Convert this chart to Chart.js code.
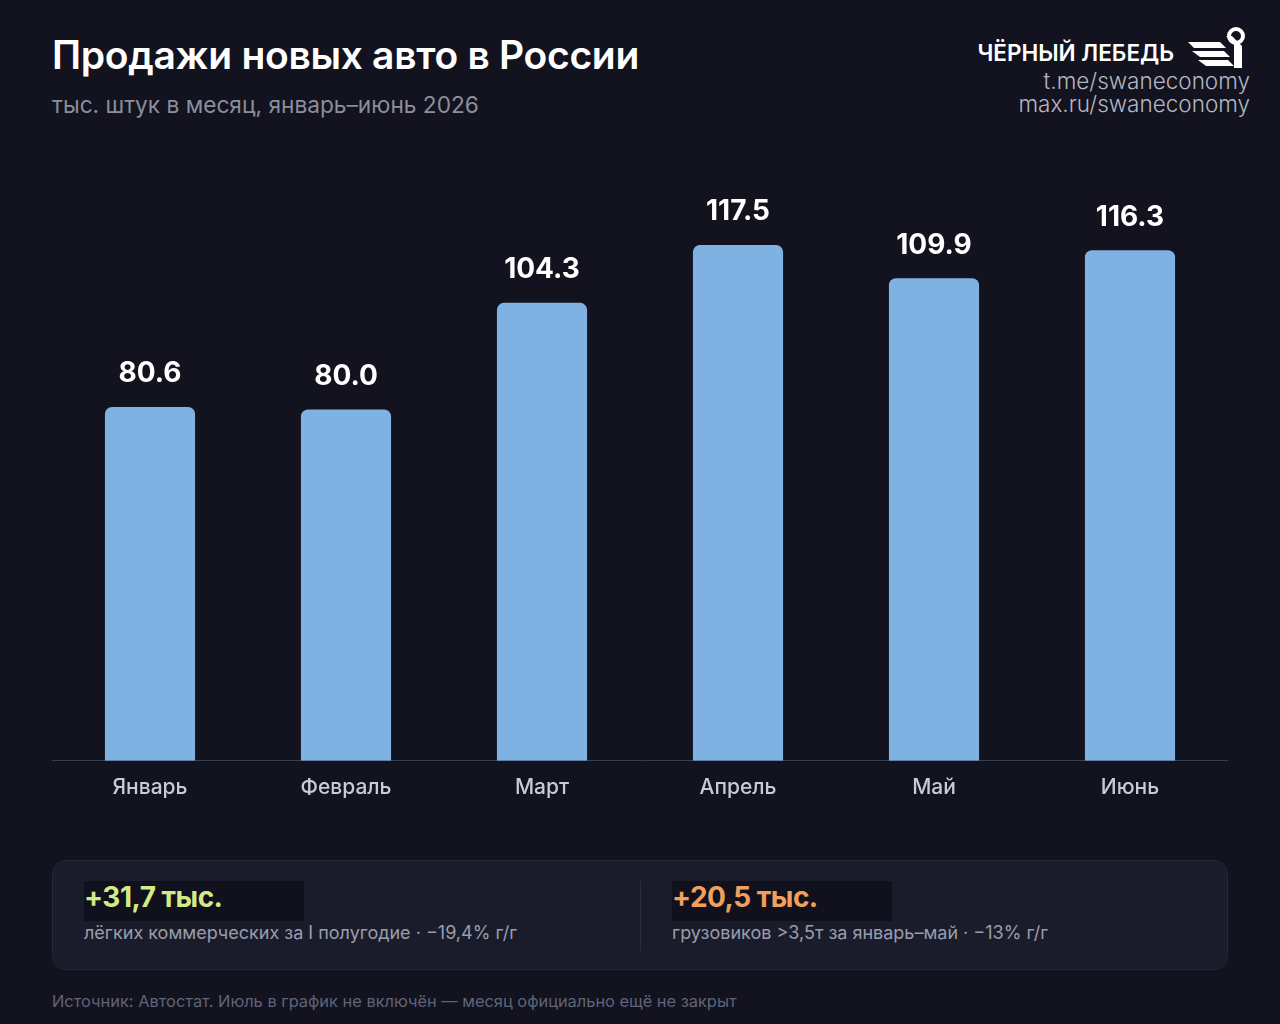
<!DOCTYPE html>
<html lang="ru">
<head>
<meta charset="utf-8">
<script src="https://cdn.jsdelivr.net/npm/chart.js@4/dist/chart.umd.min.js"></script>
<style>
  html, body { margin: 0; padding: 0; }
  body {
    width: 1280px; height: 1024px; position: relative; overflow: hidden;
    background: #12131f; font-family: Inter, "Noto Sans", sans-serif; color: #fff;
  }
  .title { position: absolute; left: 52px; top: 31px; font-size: 39px; font-weight: 600; letter-spacing: -0.3px; }
  .subtitle { position: absolute; left: 52px; top: 91px; font-size: 22.7px; color: #8b8e9d; }
  .brand { position: absolute; right: 30px; top: 26px; text-align: right; }
  .brand .name { font-size: 22.5px; font-weight: 600; margin-right: 76px; margin-top: 13px; margin-bottom: 3px; }
  .brand .link { font-size: 22.5px; color: #b5b7c2; line-height: 23px; font-weight: 300; }
  .logo { position: absolute; right: 0; top: 0; }
  #wrap { position: absolute; left: 52px; top: 150px; width: 1176px; height: 656px; }
  .panel {
    position: absolute; left: 52px; top: 860px; width: 1174px; height: 108px;
    background: #1a1c2b; border: 1px solid #24273a; border-radius: 14px;
  }
  .divider { position: absolute; left: 587px; top: 20px; width: 1px; height: 70px; background: #2c2f42; }
  .stat { position: absolute; top: 20px; }
  .stat .big { width: 220px; font-size: 28px; font-weight: 700; background: #10111d; height: 40px; line-height: 32px; letter-spacing: -0.5px; }
  .stat .small { font-size: 18px; color: #9a9caa; margin-top: 1px; }
  .footer { position: absolute; left: 52px; top: 991px; font-size: 16.4px; color: #60637a; }
</style>
</head>
<body>
<div class="title">Продажи новых авто в России</div>
<div class="subtitle">тыс. штук в месяц, январь–июнь 2026</div>

<div class="brand">
  <svg class="logo" width="64" height="48" viewBox="0 0 64 48">
    <g fill="#ffffff">
      <path d="M2 16 L34 16 L40 22 L8 22 Z"/>
      <path d="M6 25 L38 25 L44 31 L14 31 Z"/>
      <path d="M12 34 L42 34 L48 40 L20 40 Z"/>
      <path d="M40 10 L48 18 L48 42 L56 42 L56 20 L46 10 Z"/>
    </g>
    <circle cx="50" cy="10" r="7" fill="none" stroke="#fff" stroke-width="4"/>
  </svg>
  <div class="name">ЧЁРНЫЙ ЛЕБЕДЬ</div>
  <div class="link">t.me/swaneconomy</div>
  <div class="link">max.ru/swaneconomy</div>
</div>

<div id="wrap"><canvas id="salesChart"></canvas></div>

<div class="panel">
  <div class="stat" style="left:31px">
    <div class="big" style="color:#d3ea86">+31,7 тыс.</div>
    <div class="small">лёгких коммерческих за I полугодие · −19,4% г/г</div>
  </div>
  <div class="divider"></div>
  <div class="stat" style="left:619px">
    <div class="big" style="color:#f0a05c">+20,5 тыс.</div>
    <div class="small">грузовиков &gt;3,5т за январь–май · −13% г/г</div>
  </div>
</div>

<div class="footer">Источник: Автостат. Июль в график не включён — месяц официально ещё не закрыт</div>

<script>
// =======================
// DATA
// =======================
let months = ["Январь", "Февраль", "Март", "Апрель", "Май", "Июнь"];
let sales = [80.6, 80.0, 104.3, 117.5, 109.9, 116.3];

// =======================
// VALUE LABELS ABOVE BARS
// =======================
const valueLabels = {
    id: "valueLabels",
    afterDatasetsDraw(chart) {
        let ctx = chart.ctx;
        let meta = chart.getDatasetMeta(0);
        ctx.save();
        ctx.fillStyle = "#ffffff";
        ctx.font = "700 28px Inter, 'Noto Sans', sans-serif";
        ctx.textAlign = "center";
        ctx.textBaseline = "middle";
        meta.data.forEach((bar, i) => {
            ctx.fillText(sales[i].toFixed(1), bar.x, bar.y - 33);
        });
        ctx.restore();
    }
};

// =======================
// CHART
// =======================
new Chart(document.getElementById("salesChart"), {
    type: "bar",
    data: {
        labels: months,
        datasets: [{
            data: sales,
            backgroundColor: "#7fb2e2",
            borderRadius: { topLeft: 7, topRight: 7 },
            borderSkipped: "start",
            barPercentage: 0.46,
            categoryPercentage: 1.0
        }]
    },
    options: {
        responsive: true,
        maintainAspectRatio: false,
        animation: false,
        layout: { padding: { top: 40, left: 0, right: 0, bottom: 0 } },
        plugins: {
            legend: { display: false },
            tooltip: { enabled: false }
        },
        scales: {
            x: {
                grid: { display: false },
                border: { display: true, color: "#3a3e52", width: 1 },
                ticks: {
                    color: "#c8cad4",
                    padding: 6,
                    font: { family: "Inter, 'Noto Sans', sans-serif", size: 21, weight: 500 }
                }
            },
            y: {
                display: false,
                min: 0,
                max: 130
            }
        }
    },
    plugins: [valueLabels]
});
</script>
</body>
</html>
